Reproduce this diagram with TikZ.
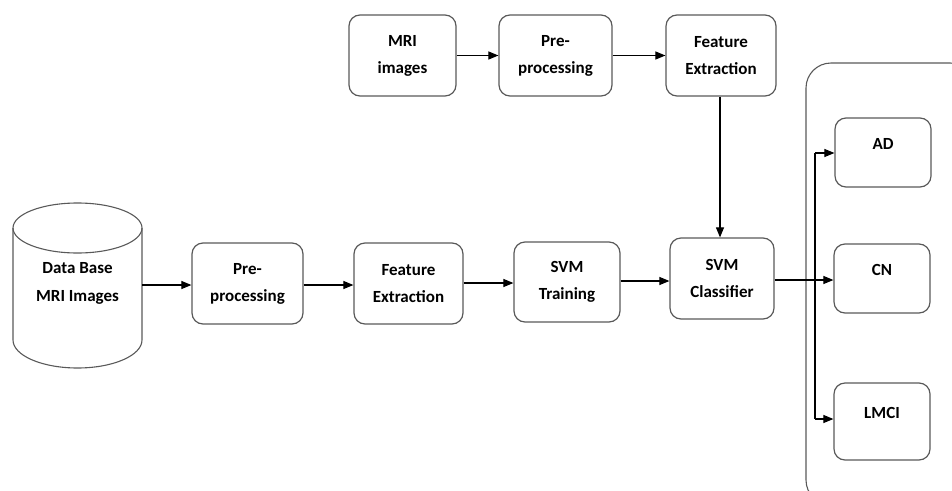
\documentclass[tikz,border=0pt]{standalone}
\usepackage{fontspec}
\setmainfont{Carlito}
\usetikzlibrary{arrows.meta}

\begin{document}
\begin{tikzpicture}[x=1pt, y=-1pt,
    box/.style={draw=black!65, line width=1.2pt, rounded corners=11pt, align=center,
        font=\fontsize{17}{27}\selectfont\bfseries},
    outbox/.style={box, text height=12pt, text depth=19pt},
    flow/.style={line width=1.1pt, -{Triangle[length=10pt, width=8pt]}}]

    % Fix the size of the page
    \useasboundingbox (0,0) rectangle (952,490);

    % Outer frame round the three classes (cut off at the page edge)
    \draw[black!65, line width=1.1pt, rounded corners=25pt] (806,63) rectangle (975,505);

    % Define the database cylinder
    \draw[black!65, line width=1.1pt] (13,228) -- (13,340) arc (180:0:64.5 and 28) -- (142,228);
    \draw[black!65, line width=1.1pt] (77.5,228) ellipse (64.5 and 25);
    \node[font=\fontsize{17}{28}\selectfont\bfseries, align=center] (db) at (77.5,283) {Data Base\\MRI Images};
    \coordinate (dbout) at (142,285);

    % Upper row: the test images
    \node[box, minimum width=107pt, minimum height=81pt] (mri) at (402.5,55.5) {MRI\\images};
    \node[box, minimum width=113pt, minimum height=81pt] (pretest) at (555.5,55.5) {Pre-\\processing};
    \node[box, minimum width=110pt, minimum height=81pt] (feattest) at (721,55.5) {Feature\\Extraction};

    % Lower row: the training chain
    \node[box, minimum width=111pt, minimum height=81pt] (pretrain) at (247.5,283.5) {Pre-\\processing};
    \node[box, minimum width=109pt, minimum height=81pt] (feattrain) at (408.5,283.5) {Feature\\Extraction};
    \node[box, minimum width=106pt, minimum height=80pt] (train) at (567,282) {SVM\\Training};
    \node[box, minimum width=104pt, minimum height=81pt] (clf) at (722,278.5) {SVM\\Classifier};

    % The three classes
    \node[outbox, minimum width=96pt, minimum height=69pt] (ad) at (883,152.5) {AD};
    \node[outbox, minimum width=96pt, minimum height=69pt] (cn) at (882,278.5) {CN};
    \node[outbox, minimum width=96pt, minimum height=77pt] (lmci) at (882,421.5) {LMCI};

    % Branch points on the vertical line
    \coordinate (btop) at (815,153);
    \coordinate (bbot) at (815,419);

    % Connectors of the upper row
    \draw[flow] (mri.east) -- (pretest.west);
    \draw[flow] (pretest.east) -- (feattest.west);
    \draw[flow] ([xshift=-1pt]feattest.south) -- ([xshift=-2pt]clf.north);

    % Connectors of the lower row
    \draw[flow] (dbout) -- (dbout -| pretrain.west);
    \draw[flow] (pretrain.east |- 0,285) -- (feattrain.west |- 0,285);
    \draw[flow] (feattrain.east |- 0,283) -- (train.west |- 0,283);
    \draw[flow] (train.east |- 0,281) -- (clf.west |- 0,281);

    % Classifier to the classes
    \draw[flow] (clf.east |- 0,280) -- (cn.west |- 0,280);
    \draw[line width=1.1pt] (btop) -- (bbot);
    \draw[flow] (btop) -- (btop -| ad.west);
    \draw[flow] (bbot) -- (bbot -| lmci.west);

\end{tikzpicture}
\end{document}
